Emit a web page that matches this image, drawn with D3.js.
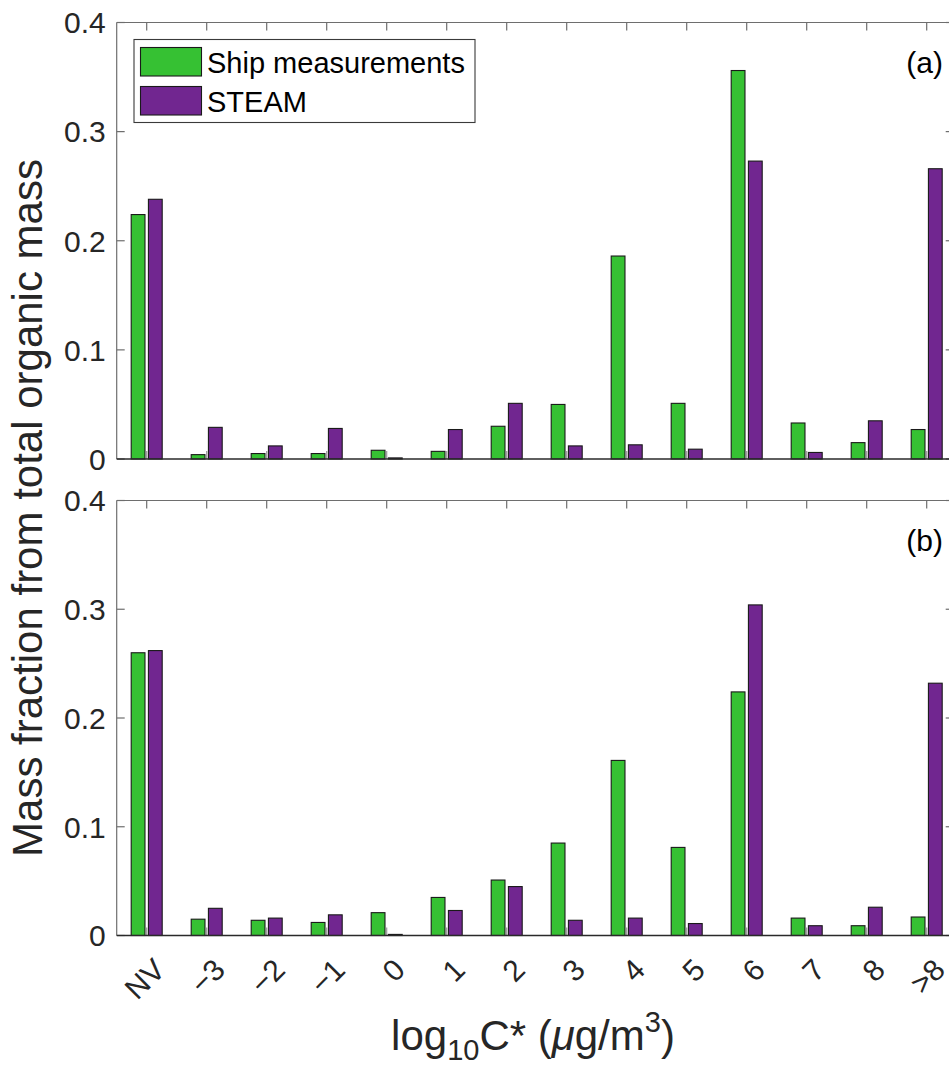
<!DOCTYPE html>
<html><head><meta charset="utf-8">
<script src="https://cdn.jsdelivr.net/npm/d3@7"></script>
<style>
body{margin:0;background:#fff;}
text{font-family:"Liberation Sans",Arial,Helvetica,sans-serif;}
</style></head>
<body>
<svg id="chart" width="949" height="1068"></svg>
<script>
const categories = ["NV","−3","−2","−1","0","1","2","3","4","5","6","7","8",">8"];
const seriesNames = ["Ship measurements","STEAM"];
const shipA  = [0.224,0.004,0.005,0.005,0.008,0.007,0.030,0.050,0.186,0.051,0.356,0.033,0.015,0.027];
const steamA = [0.238,0.029,0.012,0.028,0.001,0.027,0.051,0.012,0.013,0.009,0.273,0.006,0.035,0.266];
const shipB  = [0.260,0.015,0.014,0.012,0.021,0.035,0.051,0.085,0.161,0.081,0.224,0.016,0.009,0.017];
const steamB = [0.262,0.025,0.016,0.019,0.001,0.023,0.045,0.014,0.016,0.011,0.304,0.009,0.026,0.232];
const yTicks = [0,0.1,0.2,0.3,0.4];
const yTickLabels = ["0","0.1","0.2","0.3","0.4"];
const panelLabels = ["(a)","(b)"];
const colors = ["#36c133","#712690"];

const svg = d3.select("#chart");
const left = 116.7, right = 956.7;
const x = d3.scaleBand().domain(categories).range([left, right]).paddingInner(0).paddingOuter(0);
const xs = d3.scaleBand().domain(seriesNames).range([-15.5, 15.5]).paddingInner(0.2);
const axisGrey = "#6e6e6e", textCol = "#262626";

const panels = [
  {top:22.5, bottom:459, data:[shipA, steamA], label:panelLabels[0]},
  {top:500.5, bottom:935.5, data:[shipB, steamB], label:panelLabels[1]}
];

panels.forEach((p, pi) => {
  const y = d3.scaleLinear().domain([0,0.4]).range([p.bottom, p.top]);
  const g = svg.append("g");
  g.append("line").attr("x1",left).attr("x2",right).attr("y1",p.top).attr("y2",p.top).attr("stroke",axisGrey).attr("stroke-width",1.2);
  g.append("line").attr("x1",left).attr("x2",left).attr("y1",p.top).attr("y2",p.bottom).attr("stroke",axisGrey).attr("stroke-width",1.2);
  g.append("line").attr("x1",right).attr("x2",right).attr("y1",p.top).attr("y2",p.bottom).attr("stroke",axisGrey).attr("stroke-width",1.2);
  categories.forEach(c => {
    const cx = x(c) + x.bandwidth()/2;
    g.append("line").attr("x1",cx).attr("x2",cx).attr("y1",p.top).attr("y2",p.top+8).attr("stroke",axisGrey).attr("stroke-width",1.2);
    g.append("line").attr("x1",cx).attr("x2",cx).attr("y1",p.bottom).attr("y2",p.bottom-8).attr("stroke","#9a9a9a").attr("stroke-width",1.2);
  });
  yTicks.forEach((t, i) => {
    g.append("line").attr("x1",left).attr("x2",left+8).attr("y1",y(t)).attr("y2",y(t)).attr("stroke",axisGrey).attr("stroke-width",1.2);
    g.append("line").attr("x1",right).attr("x2",right-11).attr("y1",y(t)).attr("y2",y(t)).attr("stroke",axisGrey).attr("stroke-width",1.2);
    g.append("text").attr("x",left-11).attr("y",y(t)).attr("dy","0.36em").attr("text-anchor","end")
      .attr("font-size",30).attr("fill",textCol).text(yTickLabels[i]);
  });
  p.data.forEach((vals, si) => {
    g.append("g").selectAll("rect").data(vals).join("rect")
      .attr("x",(d,i) => x(categories[i]) + x.bandwidth()/2 + xs(seriesNames[si]))
      .attr("width", xs.bandwidth())
      .attr("y", d => y(d))
      .attr("height", d => y(0) - y(d))
      .attr("fill", colors[si])
      .attr("stroke","#1a1a1a").attr("stroke-width",1.1);
  });
  g.append("line").attr("x1",left).attr("x2",right).attr("y1",p.bottom).attr("y2",p.bottom).attr("stroke","#2a2a2a").attr("stroke-width",1.3);
  g.append("text").attr("x",943).attr("y",p.top+50).attr("text-anchor","end").attr("font-size",30).attr("fill","#000").text(p.label);
});

const yb = panels[1].bottom;
svg.append("g").selectAll("text").data(categories).join("text")
  .attr("transform", d => `translate(${x(d)+x.bandwidth()/2+12.5},${yb+28.5}) rotate(-45)`)
  .attr("text-anchor","end").attr("dy","0.36em").attr("font-size",30).attr("fill",textCol)
  .text(d => d);

const lg = svg.append("g");
lg.append("rect").attr("x",134).attr("y",39.5).attr("width",341).attr("height",83).attr("fill","#fff").attr("stroke","#3a3a3a").attr("stroke-width",1.1);
seriesNames.forEach((s, i) => {
  const yy = 47.5 + i*39;
  lg.append("rect").attr("x",140.5).attr("y",yy).attr("width",61).attr("height",28.5).attr("fill",colors[i]).attr("stroke","#1a1a1a").attr("stroke-width",1.1);
  lg.append("text").attr("x",207).attr("y",yy+25).attr("font-size",29).attr("fill","#000").text(s);
});

svg.append("text").attr("transform","translate(42,508) rotate(-90)").attr("text-anchor","middle")
  .attr("font-size",42).attr("fill",textCol).text("Mass fraction from total organic mass");
const xt = svg.append("text").attr("x",533).attr("y",1050).attr("text-anchor","middle").attr("font-size",42).attr("fill",textCol);
xt.append("tspan").text("log");
xt.append("tspan").attr("font-size",29).attr("dy",10).text("10");
xt.append("tspan").attr("dy",-10).text("C* (");
xt.append("tspan").attr("font-style","italic").text("μ");
xt.append("tspan").text("g/m");
xt.append("tspan").attr("font-size",29).attr("dy",-18).text("3");
xt.append("tspan").attr("dy",18).text(")");
</script>
</body></html>
